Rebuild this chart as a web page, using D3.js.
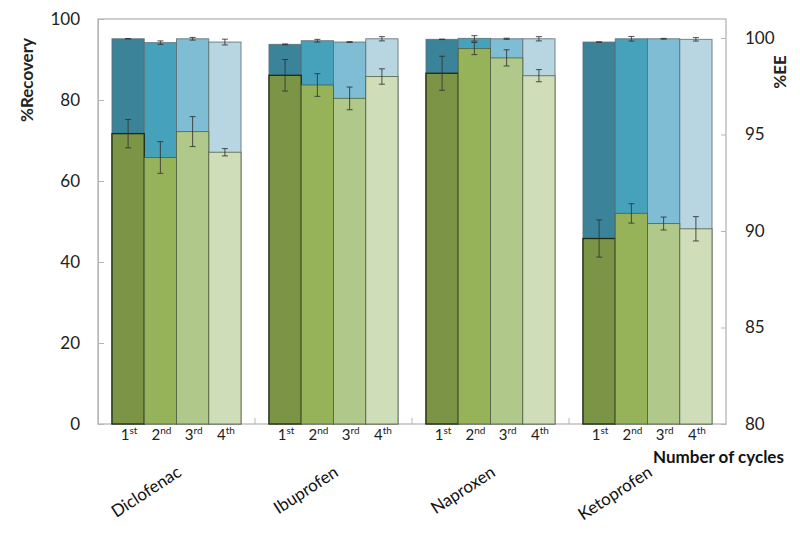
<!DOCTYPE html>
<html>
<head>
<meta charset="utf-8">
<script src="https://cdn.jsdelivr.net/npm/d3@7"></script>
<style>
  body { margin: 0; background: #fff; }
  svg { font-family: Lato, "Open Sans", sans-serif; }
</style>
</head>
<body>
<svg id="chart" width="800" height="538"></svg>
<script>
const drugs = ["Diclofenac", "Ibuprofen", "Naproxen", "Ketoprofen"];
const cycleNums = ["1", "2", "3", "4"];
const cycleSups = ["st", "nd", "rd", "th"];
const recovery = [
  [71.7, 65.8, 72.2, 67.1],
  [86.1, 83.7, 80.4, 85.8],
  [86.6, 92.7, 90.4, 86.0],
  [45.8, 52.0, 49.5, 48.2]
];
const recoveryErr = [
  [3.5, 3.9, 3.7, 0.9],
  [3.9, 2.8, 2.8, 1.9],
  [4.2, 1.5, 2.0, 1.5],
  [4.6, 2.4, 1.6, 3.0]
];
const ee = [
  [99.96, 99.76, 99.96, 99.79],
  [99.67, 99.86, 99.79, 99.96],
  [99.93, 99.98, 99.96, 99.96],
  [99.79, 99.96, 99.96, 99.93]
];
const eeErr = [
  [0.01, 0.09, 0.07, 0.15],
  [0.02, 0.07, 0.02, 0.11],
  [0.01, 0.14, 0.03, 0.11],
  [0.01, 0.12, 0.02, 0.09]
];
const leftTicks = [0, 20, 40, 60, 80, 100];
const rightTicks = [80, 85, 90, 95, 100];

const blueColors = ["#3b8399", "#46a1bb", "#7ebdd4", "#b7d6e2"];
const greenColors = ["#7b9445", "#97b35a", "#b0c889", "#cfddb8"];

const svg = d3.select("#chart");
const L = 98, R = 726, T = 19, B = 424;

const x0 = d3.scaleBand().domain(drugs).range([L, R]).paddingInner(0.178).paddingOuter(0.089);
const x1 = d3.scaleBand().domain(cycleNums).range([0, x0.bandwidth()]).padding(0);
const yL = d3.scaleLinear().domain([0, 100]).range([B, T]);
const yR = d3.scaleLinear().domain([80, 100]).range([B, 38]);

// frame
svg.append("rect").attr("x", L).attr("y", T).attr("width", R - L).attr("height", B - T)
  .attr("fill", "none").attr("stroke", "#b5b5b5").attr("stroke-width", 1.3);

// flatten data
const rows = [];
drugs.forEach((d, i) => cycleNums.forEach((c, j) => {
  rows.push({drug: d, cycle: c, j: j, rec: recovery[i][j], recE: recoveryErr[i][j], ee: ee[i][j], eeE: eeErr[i][j]});
}));

// blue bars (EE)
svg.append("g").selectAll("rect").data(rows).join("rect")
  .attr("x", d => x0(d.drug) + x1(d.cycle))
  .attr("width", x1.bandwidth())
  .attr("y", d => yR(d.ee))
  .attr("height", d => B - yR(d.ee))
  .attr("fill", d => blueColors[d.j])
  .attr("stroke", "#5a6a70").attr("stroke-opacity", 0.8).attr("stroke-width", 1);

// green bars (Recovery)
svg.append("g").selectAll("rect").data(rows).join("rect")
  .attr("x", d => x0(d.drug) + x1(d.cycle))
  .attr("width", x1.bandwidth())
  .attr("y", d => yL(d.rec))
  .attr("height", d => B - yL(d.rec))
  .attr("fill", d => greenColors[d.j])
  .attr("stroke", d => d.j === 0 ? "#1e2a10" : "#4c5a3a").attr("stroke-opacity", d => d.j === 0 ? 1 : 0.75)
  .attr("stroke-width", d => d.j === 0 ? 1.3 : 1);

// error bars
function errBars(acc, accE, scale) {
  const g = svg.append("g").attr("stroke", "#333").attr("stroke-width", 1).attr("stroke-opacity", 0.85);
  rows.forEach(d => {
    const cx = x0(d.drug) + x1(d.cycle) + x1.bandwidth() / 2;
    const y1 = scale(acc(d) + accE(d)), y2 = scale(acc(d) - accE(d));
    g.append("line").attr("x1", cx).attr("x2", cx).attr("y1", y1).attr("y2", y2);
    g.append("line").attr("x1", cx - 3).attr("x2", cx + 3).attr("y1", y1).attr("y2", y1);
    g.append("line").attr("x1", cx - 3).attr("x2", cx + 3).attr("y1", y2).attr("y2", y2);
  });
}
errBars(d => d.ee, d => d.eeE, yR);
errBars(d => d.rec, d => d.recE, yL);

// left axis
const axL = svg.append("g").attr("transform", `translate(${L},0)`)
  .call(d3.axisLeft(yL).tickValues(leftTicks).tickSize(-6).tickPadding(18));
axL.select(".domain").attr("stroke", "#b5b5b5");
axL.selectAll(".tick line").attr("stroke", "#b5b5b5");
axL.selectAll(".tick text").attr("font-size", 17).attr("fill", "#222").attr("font-family", "Lato, sans-serif");

// right axis
const axR = svg.append("g").attr("transform", `translate(${R},0)`)
  .call(d3.axisRight(yR).tickValues(rightTicks).tickSize(-5).tickPadding(19));
axR.select(".domain").remove();
axR.selectAll(".tick line").attr("stroke", "#b5b5b5");
axR.selectAll(".tick text").attr("font-size", 17).attr("fill", "#222").attr("font-family", "Lato, sans-serif");

// group separator ticks at bottom
svg.append("g").selectAll("line").data(drugs.slice(1)).join("line")
  .attr("x1", d => x0(d) - x0.step() * x0.paddingInner() / 2)
  .attr("x2", d => x0(d) - x0.step() * x0.paddingInner() / 2)
  .attr("y1", B).attr("y2", B - 6)
  .attr("stroke", "#b5b5b5");

// cycle labels
rows.forEach(d => {
  const cx = x0(d.drug) + x1(d.cycle) + x1.bandwidth() / 2;
  const t = svg.append("text").attr("x", cx + 1).attr("y", 440)
    .attr("text-anchor", "middle").attr("font-size", 15).attr("fill", "#222");
  t.append("tspan").text(d.cycle);
  t.append("tspan").attr("font-size", 10).attr("dy", -6).text(cycleSups[d.j]);
});

// drug labels
svg.append("g").selectAll("text").data(drugs).join("text")
  .attr("transform", d => `translate(${x0(d) + x0.bandwidth() / 2 + 6},${475}) rotate(-33)`)
  .attr("text-anchor", "end").attr("font-size", 17).attr("fill", "#111")
  .text(d => d);

// axis titles
svg.append("text").attr("transform", "translate(33,80) rotate(-90)")
  .attr("text-anchor", "middle").attr("font-size", 17).attr("font-weight", "bold").attr("fill", "#222")
  .text("%Recovery");
svg.append("text").attr("transform", "translate(786,72) rotate(-90)")
  .attr("text-anchor", "middle").attr("font-size", 17).attr("font-weight", "bold").attr("fill", "#222")
  .text("%EE");
svg.append("text").attr("x", 653).attr("y", 463)
  .attr("font-size", 17).attr("font-weight", "bold").attr("fill", "#111")
  .text("Number of cycles");
</script>
</body>
</html>
